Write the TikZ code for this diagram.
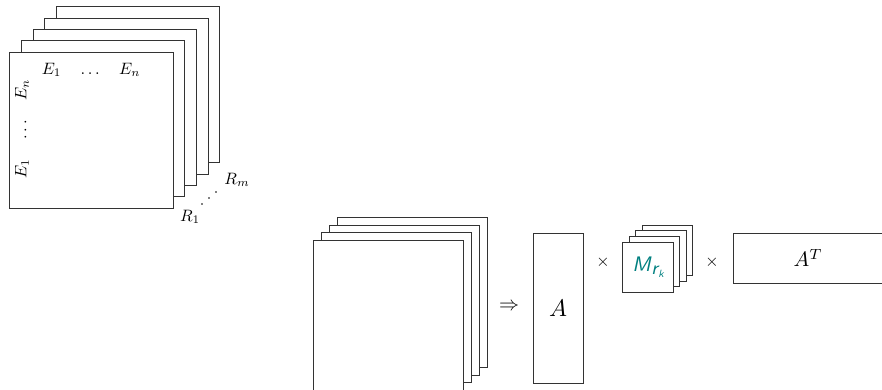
\documentclass[tikz,border=0pt]{standalone}
\usepackage{amsmath}
\definecolor{mteal}{RGB}{0,128,128}
\tikzset{
  sheet/.style={draw=black!80, line width=0.8pt, fill=white, inner sep=0pt, outer sep=0pt},
  lblE/.style={inner sep=0pt, scale=1.65},
  lblA/.style={inner sep=0pt, scale=2.4},
  opsym/.style={inner sep=0pt, scale=2.0},
  dotmark/.style={circle, fill=black, inner sep=0pt, minimum size=1.6pt},
}
\begin{document}
\begin{tikzpicture}[x=1pt,y=-1pt]
\useasboundingbox (0,0) rectangle (882,390);
% top-left stack
\foreach \k in {4,3,2,1,0}{
  \node[sheet, minimum width=163.5pt, minimum height=156pt] (t\k) at (91.25+11.7*\k, 130-11.3*\k) {};
}
\node[lblE] (toplbl) at (91,70) {$E_1\quad\dots\quad E_n$};
\node[lblE, rotate=90] (leftlbl) at (22,129) {$E_1\quad\dots\quad E_n$};
\node[lblE] (r1) at (190,217) {$R_1$};
\node[lblE] (rm) at (237,180) {$R_m$};
\node[dotmark] (d1) at (202,204) {};
\node[dotmark] (d2) at (209,198) {};
\node[dotmark] (d3) at (216,192) {};
% bottom stack
\foreach \k in {3,2,1,0}{
  \node[sheet, minimum width=150pt, minimum height=150pt] (b\k) at (388+8*\k, 315-7.4*\k) {};
}
\node[opsym] (impl) at (509,307) {$\Rightarrow$};
% A
\node[sheet, minimum width=50pt, minimum height=150pt] (A) at (558,308) {};
\node[lblA] (Alab) at (A.center) {$A$};
\node[opsym, scale=0.85] (times1) at (603,262) {$\times$};
% M stack
\foreach \k in {3,2,1,0}{
  \node[sheet, minimum width=50.5pt, minimum height=50.5pt] (m\k) at (648+6.4*\k, 267.3-5.7*\k) {};
}
\node[inner sep=0pt, text=mteal, scale=2.1, font=\sffamily\slshape] (Mlab) at (m0.center) {M\kern0.3pt\raisebox{-1.6pt}{\small r\kern0.2pt\raisebox{-1.6pt}{\tiny k}}};
\node[opsym, scale=0.85] (times2) at (712,262) {$\times$};
% A^T
\node[sheet, minimum width=150pt, minimum height=50pt] (AT) at (808,258) {};
\node[inner sep=0pt, scale=2.1] (ATlab) at (AT.center) {$A^T$};
\end{tikzpicture}
\end{document}
